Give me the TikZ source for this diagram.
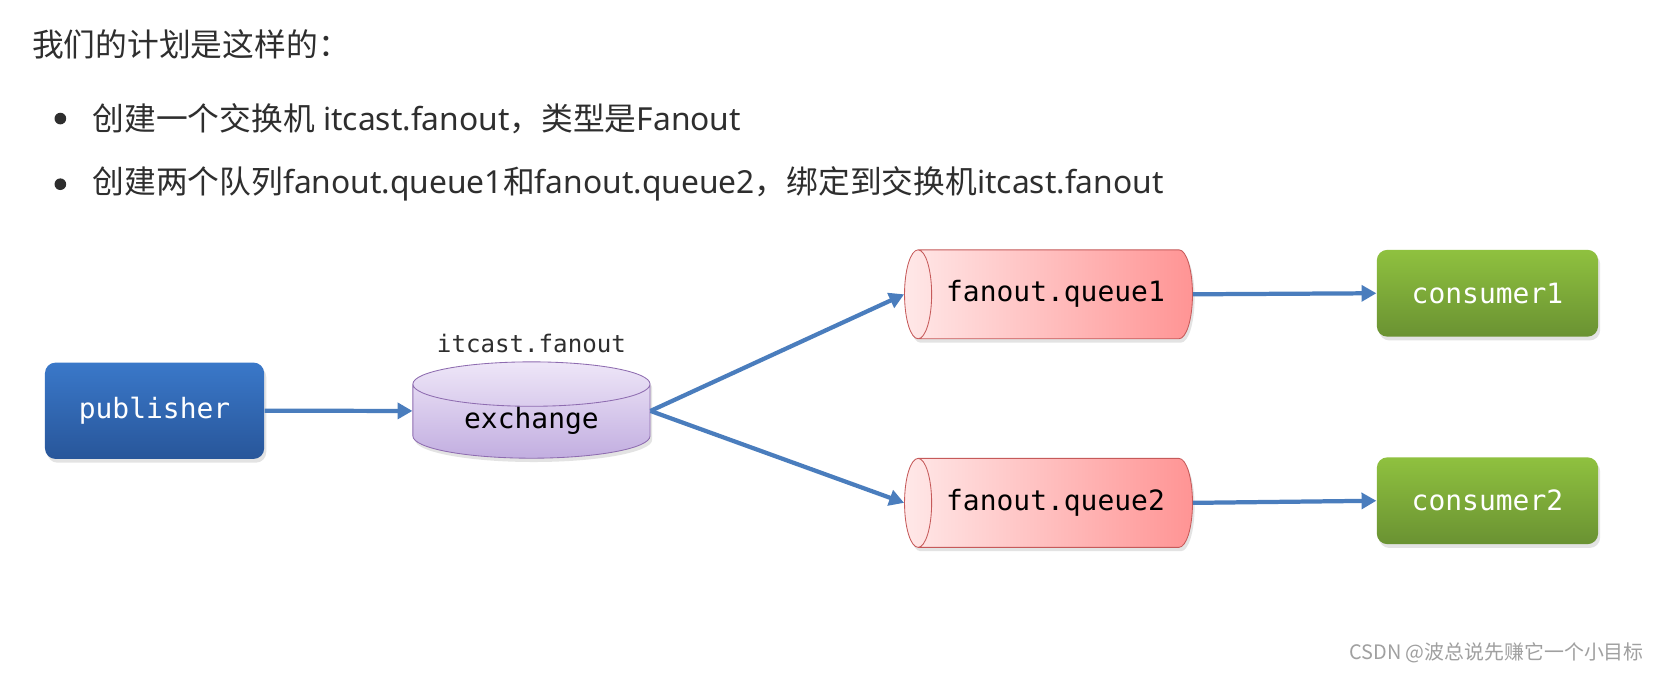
\documentclass[tikz,border=0pt]{standalone}
\usepackage{fontspec}
\setmainfont{Noto Sans}
\setmonofont{DejaVu Sans Mono}
\newfontfamily\cjk{Noto Sans CJK SC}
\usepackage{tikz}
\usetikzlibrary{shapes.geometric,arrows.meta,positioning,shadows}
\definecolor{textgrey}{HTML}{2E2E2E}
\definecolor{markgrey}{HTML}{A0A0A0}
\definecolor{flowblue}{HTML}{4A7DBD}
\definecolor{pubtop}{HTML}{3A78C9}
\definecolor{pubbot}{HTML}{28569A}
\definecolor{contop}{HTML}{8FC13F}
\definecolor{conbot}{HTML}{6A9232}
\definecolor{extop}{HTML}{EEE6F8}
\definecolor{exbot}{HTML}{C2AEE0}
\definecolor{exline}{HTML}{8E6CB0}
\definecolor{queuel}{HTML}{FFE8E8}
\definecolor{queuer}{HTML}{FF9494}
\definecolor{queueline}{HTML}{C65A5A}
\tikzstyle{shade} = [drop shadow={opacity=0.22,shadow xshift=1pt,shadow yshift=-1.8pt}]
\tikzstyle{box} = [rounded corners=5pt,inner sep=0pt,minimum width=103.5pt,minimum height=45.5pt,text=white,font=\ttfamily\fontsize{13.2}{15}\selectfont,shade]
\tikzstyle{pubbox} = [box,top color=pubtop,bottom color=pubbot]
\tikzstyle{conbox} = [box,top color=contop,bottom color=conbot,minimum width=104.5pt,minimum height=41pt]
\tikzstyle{queue} = [cylinder,shape border rotate=180,aspect=1,minimum height=136pt,minimum width=42pt,inner sep=0pt,draw=queueline,left color=queuel,right color=queuer,text=black,font=\ttfamily\fontsize{13.2}{15}\selectfont,shade]
\tikzstyle{exch} = [cylinder,shape border rotate=90,aspect=0.33,minimum height=45.5pt,minimum width=112pt,inner sep=0pt,draw=exline,top color=extop,bottom color=exbot,text=black,font=\ttfamily\fontsize{13.2}{15}\selectfont,shade]
\tikzstyle{flow} = [flowblue,line width=2pt,-{Triangle[length=7pt,width=7.5pt]}]
\tikzstyle{dot} = [circle,fill=textgrey,inner sep=0pt,minimum size=5.5pt]
\tikzstyle{line} = [anchor=west,inner sep=0pt,text=textgrey,font=\fontsize{15}{17}\selectfont]

\begin{document}
\begin{tikzpicture}[x=0.5pt,y=-0.5pt]
    \useasboundingbox [fill=white] (0,0) rectangle (1568,635);
    \node [line] (title) at (30,42) {\cjk 我们的计划是这样的：};
    \node [dot] (b1) at (57,112) {};
    \node [line] (item1) at (87,112) {{\cjk 创建一个交换机} itcast.fanout{\cjk ，类型是}Fanout};
    \node [dot] (b2) at (57,174) {};
    \node [line] (item2) at (87,174) {{\cjk 创建两个队列}fanout.queue1{\cjk 和}fanout.queue2{\cjk ，绑定到交换机}itcast.fanout};

    \node [pubbox] (pub) at (146,388) {publisher};
    \node [exch] (ex) at (502,398) {\raisebox{-2pt}{exchange}};
    \node [above=4pt of ex,inner sep=0pt,text=textgrey,font=\ttfamily\fontsize{11.4}{13}\selectfont] (exname) {itcast.fanout};
    \node [queue] (q1) at (997,278) {fanout.queue1};
    \node [queue] (q2) at (997,475) {fanout.queue2};
    \node [conbox] (c1) at (1405,277) {consumer1};
    \node [conbox] (c2) at (1405,473) {consumer2};

    \draw [flow] (pub.east) -- (ex.175);
    \draw [flow] (ex.5) -- (q1.west);
    \draw [flow] (ex.5) -- (q2.west);
    \draw [flow] (q1.east) -- (c1.west);
    \draw [flow] (q2.east) -- (c2.west);

    \node [anchor=east,inner sep=0pt,text=markgrey,font=\cjk\fontsize{9.4}{11}\selectfont] (mark) at (1553,617) {CSDN @波总说先赚它一个小目标};
\end{tikzpicture}
\end{document}
